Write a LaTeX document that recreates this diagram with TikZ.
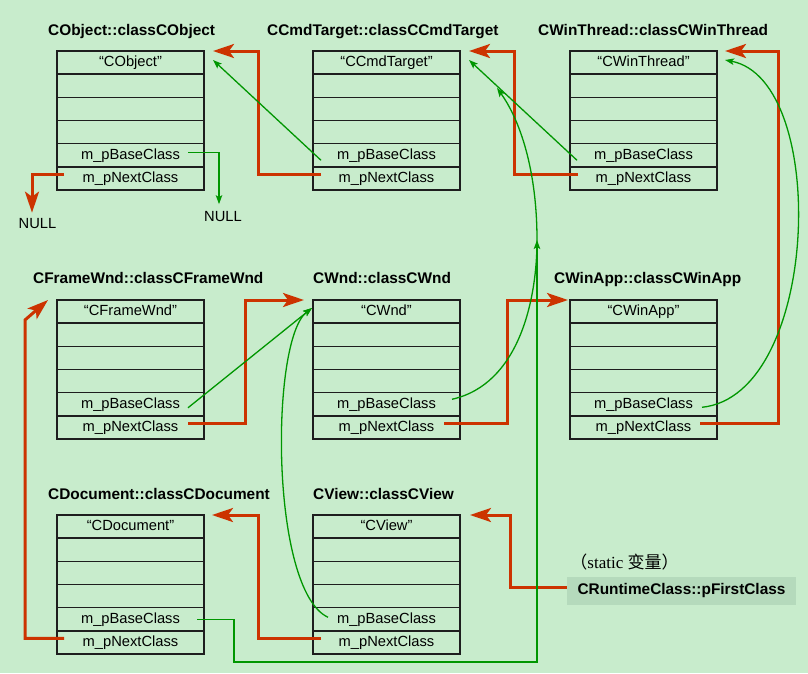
\documentclass[tikz,border=0pt]{standalone}
\usepackage{fontspec}
\setmainfont{Liberation Sans}
\newfontfamily\SerifFnt{Liberation Serif}
\newfontfamily\CjkFnt{Noto Sans CJK SC}
\usetikzlibrary{arrows.meta,calc}
\definecolor{bgc}{RGB}{200,236,204}
\definecolor{redc}{RGB}{204,51,0}
\definecolor{greenc}{RGB}{0,150,0}
\definecolor{firstfill}{RGB}{181,218,188}
\definecolor{boxline}{RGB}{30,30,30}
\newcommand\TitleFnt{\fontsize{15.4}{18}\selectfont\bfseries}
\newcommand\RowFnt{\fontsize{14.7}{17}\selectfont}
\newcommand\ClassBox[4]{%
  \node[row] (#1-1) at (#2,#3) {#4};
  \node[row] (#1-2) at (#1-1.south west) {};
  \node[row] (#1-3) at (#1-2.south west) {};
  \node[row] (#1-4) at (#1-3.south west) {};
  \node[row] (#1-5) at (#1-4.south west) {m\_pBaseClass};
  \node[row] (#1-6) at (#1-5.south west) {m\_pNextClass};
}
\begin{document}
\begin{tikzpicture}[x=1pt,y=-1pt,
  row/.style={draw=boxline, line width=1.5pt, minimum width=147pt, minimum height=23.17pt,
    inner sep=0pt, outer sep=0pt, anchor=north west, font=\RowFnt, text height=10.5pt, text depth=3pt},
  title/.style={font=\TitleFnt, anchor=base west, inner sep=0pt},
  nextptr/.style={draw=redc, line width=3pt, -{Stealth[length=21pt,width=14pt,inset=5pt]}},
  baseptr/.style={draw=greenc, line width=1.3pt, -{Stealth[length=9pt,width=6.5pt,inset=2pt]}},
  nulltext/.style={font=\RowFnt, inner sep=0pt}]
\fill[bgc] (0,0) rectangle (808,673);
\useasboundingbox (0,0) rectangle (808,673);

% class boxes
\ClassBox{cobj}{57}{51}{“CObject”}
\ClassBox{cct}{313}{51}{“CCmdTarget”}
\ClassBox{cwt}{570}{51}{“CWinThread”}
\ClassBox{cframe}{57}{300}{“CFrameWnd”}
\ClassBox{cwnd}{313}{300}{“CWnd”}
\ClassBox{capp}{570}{300}{“CWinApp”}
\ClassBox{cdoc}{57}{515}{“CDocument”}
\ClassBox{cview}{313}{515}{“CView”}

% titles
\node[title] (t-cobj) at (48,35.5) {CObject::classCObject};
\node[title] (t-cct) at (267,35.5) {CCmdTarget::classCCmdTarget};
\node[title] (t-cwt) at (538,35.5) {CWinThread::classCWinThread};
\node[title] (t-cframe) at (33,283.5) {CFrameWnd::classCFrameWnd};
\node[title] (t-cwnd) at (313,283.5) {CWnd::classCWnd};
\node[title] (t-capp) at (554,283.5) {CWinApp::classCWinApp};
\node[title] (t-cdoc) at (48,499.5) {CDocument::classCDocument};
\node[title] (t-cview) at (313,499.5) {CView::classCView};

% static first pointer
\node[fill=firstfill, minimum width=229pt, minimum height=28pt, inner sep=0pt, font=\TitleFnt] (first) at (681.5,591) {CRuntimeClass::pFirstClass};
\node[inner sep=0pt, font=\fontsize{17}{20}\selectfont] (static) at (624.5,562) {\CjkFnt （\SerifFnt static \CjkFnt 变量）};

\node[nulltext] (null1) at (37.5,224) {NULL};
\node[nulltext] (null2) at (223,216.5) {NULL};

% red: m_pNextClass chain
\draw[nextptr] ($(first.west)+(0,-4)$) -| ($(cview-1.north east)+(50,0)$) -- ($(cview-1.north east)+(10,0)$);
\draw[nextptr] ($(cview-6.west)+(8,-4)$) -| ($(cdoc-1.north east)+(54,0)$) -- ($(cdoc-1.north east)+(8,0)$);
\draw[nextptr] ($(cdoc-6.west)+(7,-4)$) -| ($(cframe-1.north west)+(-32,20)$) -- ($(cframe-1.north west)+(-9,0)$);
\draw[nextptr] ($(cframe-6.east)+(-16,-4)$) -| ($(cwnd-1.north west)+(-68,0)$) -- ($(cwnd-1.north west)+(-9,0)$);
\draw[nextptr] ($(cwnd-6.east)+(-16,-4)$) -| ($(capp-1.north west)+(-63,0)$) -- ($(capp-1.north west)+(-2,0)$);
\draw[nextptr] ($(capp-6.east)+(-17,-4)$) -| ($(cwt-1.north east)+(61,0)$) -- ($(cwt-1.north east)+(8,0)$);
\draw[nextptr] ($(cwt-6.west)+(8,-4)$) -| ($(cct-1.north east)+(54,0)$) -- ($(cct-1.north east)+(9,0)$);
\draw[nextptr] ($(cct-6.west)+(8,-4)$) -| ($(cobj-1.north east)+(54,0)$) -- ($(cobj-1.north east)+(9,0)$);
\draw[nextptr] ($(cobj-6.west)+(7,-4)$) -| ($(null1.north)+(-5.5,-6)$);

% green: m_pBaseClass links
\draw[baseptr] ($(cobj-5.east)+(-16,-3)$) -| ($(null2.north)+(-4,-7)$);
\draw[baseptr] ($(cct-5.west)+(8,5)$) -- ($(cobj-1.east)+(9,-2.6)$);
\draw[baseptr] ($(cwt-5.west)+(7,5)$) -- ($(cct-1.east)+(9,-2.6)$);
\draw[baseptr] ($(cframe-5.east)+(-16,3.5)$) -- ($(cwnd-1.west)+(-1,-3.6)$);
\coordinate (merge) at ($(cct-1.north east)+(77,189)$);
\draw[baseptr] ($(cwnd-5.east)+(-8,-5)$) .. controls +(67,-15) and +(0,60) .. (merge)
  .. controls +(0,-70) and +(23,32) .. ($(cct-1.north east)+(37,37)$);
\draw[baseptr] ($(cview-5.west)+(15,-2)$) .. controls +(-58,-27) and +(-42,32) .. ($(cwnd-1.west)+(-1,-3.6)$);
\draw[baseptr] ($(capp-5.east)+(-15,3)$) .. controls +(118,-12) and +(105,20) .. ($(cwt-1.east)+(8,-2.6)$);
\draw[baseptr] ($(cdoc-5.east)+(-7,0)$) -| ($(cdoc-6.south east)+(30,8)$) -| (merge);
\end{tikzpicture}
\end{document}
